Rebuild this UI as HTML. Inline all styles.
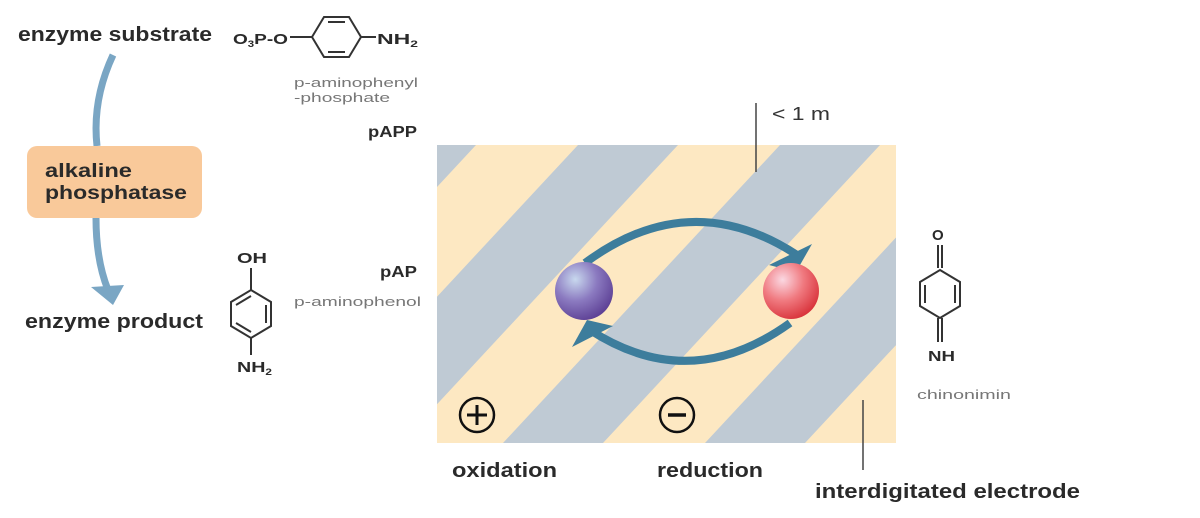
<!DOCTYPE html>
<html><head><meta charset="utf-8"><style>
body{margin:0;background:#fff;width:1200px;height:518px;overflow:hidden}
svg{display:block}
.b{font-family:"Liberation Sans",sans-serif;font-weight:bold;fill:#2a2a2a}
.g{font-family:"Liberation Sans",sans-serif;fill:#777;font-size:13px}
</style></head><body>
<svg width="1200" height="518" viewBox="0 0 1200 518">
<defs>
<clipPath id="c"><rect x="437" y="145" width="459" height="298"/></clipPath>
<radialGradient id="pu" cx="0.35" cy="0.3" r="0.75"><stop offset="0" stop-color="#c8d8ee"/><stop offset="0.5" stop-color="#8b7ac0"/><stop offset="1" stop-color="#5c3f94"/></radialGradient>
<radialGradient id="rd" cx="0.35" cy="0.3" r="0.75"><stop offset="0" stop-color="#fbd8e2"/><stop offset="0.5" stop-color="#f07a80"/><stop offset="1" stop-color="#d8323a"/></radialGradient>
</defs>
<text class="b" x="18" y="41" font-size="20" textLength="194" lengthAdjust="spacingAndGlyphs">enzyme substrate</text>
<text class="b" x="25" y="328" font-size="20" textLength="178" lengthAdjust="spacingAndGlyphs">enzyme product</text>
<path d="M113 55 Q92 100 97 146" stroke="#7aa6c4" stroke-width="7" fill="none"/>
<path d="M96 218 Q96 260 108 290" stroke="#7aa6c4" stroke-width="7" fill="none"/>
<path d="M91 287 L124 285 L113 305 Z" fill="#7aa6c4"/>
<rect x="27" y="146" width="175" height="72" rx="10" fill="#f9c99a"/>
<text class="b" x="45" y="177" font-size="19" textLength="87" lengthAdjust="spacingAndGlyphs">alkaline</text>
<text class="b" x="45" y="199" font-size="19" textLength="142" lengthAdjust="spacingAndGlyphs">phosphatase</text>
<text class="b" x="233" y="44" font-size="15" textLength="55" lengthAdjust="spacingAndGlyphs">O<tspan font-size="9" dy="3">3</tspan><tspan dy="-3">P-O</tspan></text>
<g stroke="#333" stroke-width="2" fill="none">
<line x1="290" y1="37" x2="312" y2="37"/>
<polygon points="312,37 324,17 349,17 361,37 349,57 324,57"/>
<line x1="328" y1="22" x2="345" y2="22"/><line x1="328" y1="52" x2="345" y2="52"/>
<line x1="361" y1="37" x2="376" y2="37"/>
</g>
<text class="b" x="377" y="44" font-size="15" textLength="41" lengthAdjust="spacingAndGlyphs">NH<tspan font-size="9" dy="3">2</tspan></text>
<text class="g" x="294" y="87" textLength="124" lengthAdjust="spacingAndGlyphs">p-aminophenyl</text>
<text class="g" x="294" y="102" textLength="96" lengthAdjust="spacingAndGlyphs">-phosphate</text>
<text class="b" x="368" y="137" font-size="16" textLength="49" lengthAdjust="spacingAndGlyphs">pAPP</text>
<text class="b" x="237" y="263" font-size="15" textLength="30" lengthAdjust="spacingAndGlyphs">OH</text>
<g stroke="#333" stroke-width="2" fill="none">
<line x1="251" y1="268" x2="251" y2="290"/>
<polygon points="251,290 271,302 271,326 251,338 231,326 231,302"/>
<line x1="266" y1="305" x2="266" y2="323"/><line x1="236" y1="305" x2="251" y2="296"/><line x1="236" y1="323" x2="251" y2="332"/>
<line x1="251" y1="338" x2="251" y2="355"/>
</g>
<text class="b" x="237" y="372" font-size="15" textLength="35" lengthAdjust="spacingAndGlyphs">NH<tspan font-size="9" dy="3">2</tspan></text>
<text class="b" x="380" y="277" font-size="16" textLength="37" lengthAdjust="spacingAndGlyphs">pAP</text>
<text class="g" x="294" y="306" textLength="127" lengthAdjust="spacingAndGlyphs">p-aminophenol</text>
<g clip-path="url(#c)">
<rect x="437" y="145" width="459" height="298" fill="#fde8c2"/>
<g fill="#bfcad4">
<polygon points="376,145 476,145 199,443 99,443"/>
<polygon points="578,145 678,145 401,443 301,443"/>
<polygon points="780,145 880,145 603,443 503,443"/>
<polygon points="982,145 1082,145 805,443 705,443"/>
</g>
</g>
<line x1="756" y1="103" x2="756" y2="172" stroke="#444" stroke-width="1.5"/>
<text x="772" y="120" font-family="Liberation Sans,sans-serif" font-size="18" fill="#333" textLength="58" lengthAdjust="spacingAndGlyphs">&lt; 1 m</text>
<line x1="863" y1="400" x2="863" y2="470" stroke="#444" stroke-width="1.5"/>
<g fill="none" stroke="#3d7d9c" stroke-width="8">
<path d="M585 263 Q690 185 797 255"/>
<path d="M790 323 Q690 395 590 330"/>
</g>
<polygon points="812,244 796,272 769,265" fill="#3d7d9c"/>
<polygon points="572,347 587,320 613,326" fill="#3d7d9c"/>
<circle cx="584" cy="291" r="29" fill="url(#pu)"/>
<circle cx="791" cy="291" r="28" fill="url(#rd)"/>
<circle cx="477" cy="415" r="17" fill="none" stroke="#111" stroke-width="2.5"/>
<path d="M477 405 V425 M467 415 H487" stroke="#111" stroke-width="3"/>
<circle cx="677" cy="415" r="17" fill="none" stroke="#111" stroke-width="2.5"/>
<path d="M668 415 H686" stroke="#111" stroke-width="3.5"/>
<text class="b" x="452" y="477" font-size="20" textLength="105" lengthAdjust="spacingAndGlyphs">oxidation</text>
<text class="b" x="657" y="477" font-size="20" textLength="106" lengthAdjust="spacingAndGlyphs">reduction</text>
<text class="b" x="815" y="498" font-size="20" textLength="265" lengthAdjust="spacingAndGlyphs">interdigitated electrode</text>
<text class="b" x="932" y="240" font-size="15">O</text>
<g stroke="#333" stroke-width="2" fill="none">
<line x1="938" y1="245" x2="938" y2="268"/><line x1="942" y1="245" x2="942" y2="268"/>
<polygon points="940,270 960,282 960,306 940,318 920,306 920,282"/>
<line x1="955" y1="285" x2="955" y2="303"/><line x1="925" y1="285" x2="925" y2="303"/>
<line x1="938" y1="318" x2="938" y2="342"/><line x1="942" y1="318" x2="942" y2="342"/>
</g>
<text class="b" x="928" y="361" font-size="15" textLength="27" lengthAdjust="spacingAndGlyphs">NH</text>
<text class="g" x="917" y="399" textLength="94" lengthAdjust="spacingAndGlyphs">chinonimin</text>
</svg>
</body></html>
